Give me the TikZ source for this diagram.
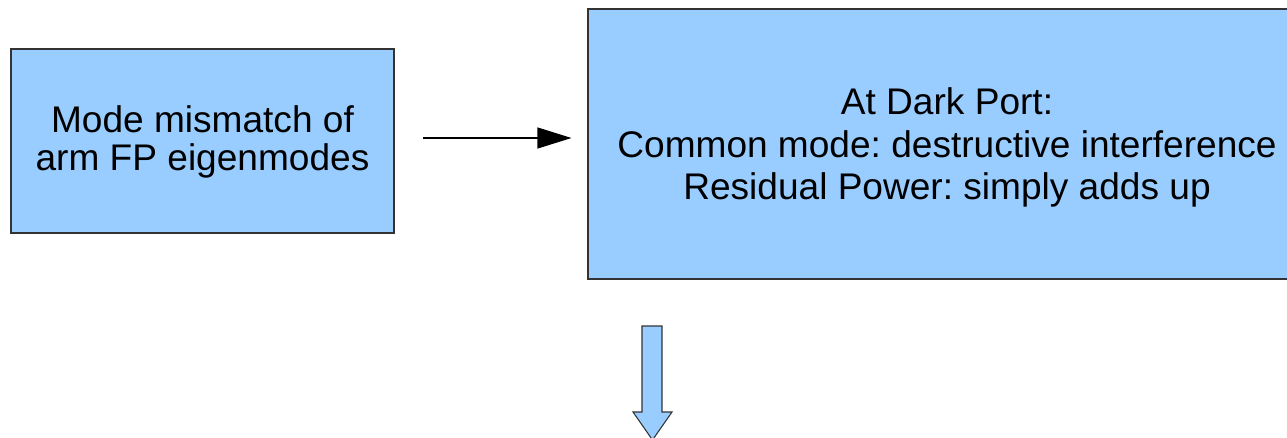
\documentclass[tikz,border=0pt]{standalone}
\usepackage{fontspec}
\setmainfont{Liberation Sans}
\frenchspacing
\usetikzlibrary{arrows.meta,calc,positioning}
\definecolor{boxblue}{HTML}{99CCFF}
\definecolor{edgegray}{HTML}{333333}

\begin{document}
\begin{tikzpicture}[x=0.75pt, y=-0.75pt, >={Triangle[length=25.5pt, width=15.75pt]}]
  \tikzset{
    blockbox/.style={draw=edgegray, fill=boxblue, line width=0.8pt, align=center,
      inner sep=0pt, text depth=0pt},
  }
  \useasboundingbox (0,0) rectangle (1287,438);
  \node[blockbox, minimum width=383*0.75pt, minimum height=184*0.75pt, text height=45pt,
    font=\fontsize{27.8}{28.5}\selectfont] (mismatch) at (202.5,141)
    {Mode mismatch of\\arm FP eigenmodes};
  \node[blockbox, minimum width=718*0.75pt, minimum height=270*0.75pt, text height=84pt,
    font=\fontsize{27.8}{31.9}\selectfont] (darkport) at (947,144)
    {At Dark Port:\\Common mode: destructive interference\\Residual Power: simply adds up};
  \coordinate (tail) at ($(mismatch.east)+(28,-3)$);
  \draw[->, line width=0.8pt, shorten >=12pt] (tail) -- (tail -| darkport.west);
  % block arrow below the dark port box
  \draw[draw=edgegray, fill=boxblue, line width=0.8pt]
    (642,326) -- (662,326) -- (662,412) -- (672,412) -- (652.5,440)
    -- (633,412) -- (642,412) -- cycle;
\end{tikzpicture}
\end{document}
